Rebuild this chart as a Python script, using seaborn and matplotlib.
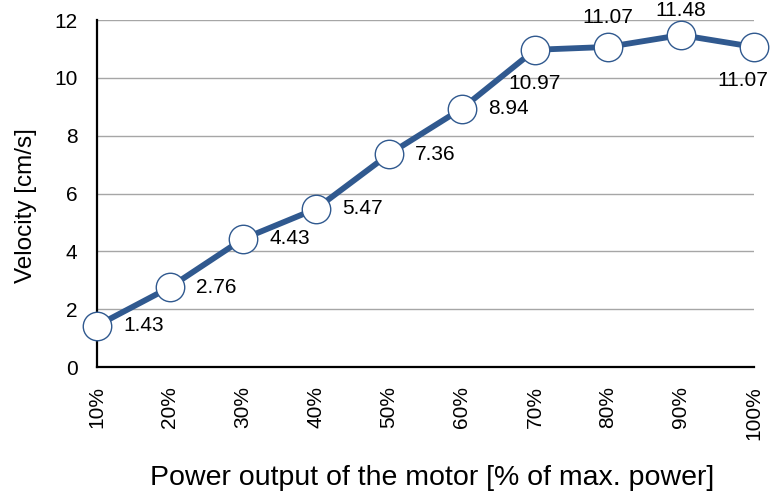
import matplotlib
matplotlib.use("Agg")
import matplotlib.pyplot as plt
import seaborn as sns
import pandas as pd

power = ["10%", "20%", "30%", "40%", "50%", "60%", "70%", "80%", "90%", "100%"]
velocity = [1.43, 2.76, 4.43, 5.47, 7.36, 8.94, 10.97, 11.07, 11.48, 11.07]
label_pos = ["right", "right", "right", "right", "right", "right", "below", "above", "above", "below"]
yticks = [0, 2, 4, 6, 8, 10, 12]

sns.set_style("white")
plt.rcParams["font.family"] = ["Liberation Sans", "DejaVu Sans"]
plt.rcParams["text.color"] = "black"
plt.rcParams["xtick.color"] = "black"
plt.rcParams["ytick.color"] = "black"
plt.rcParams["axes.labelcolor"] = "black"

df = pd.DataFrame({"power": power, "velocity": velocity})

fig = plt.figure(figsize=(7.72, 4.92), dpi=100)
ax = fig.add_axes([0.1256, 0.254, 0.851, 0.7053])

line_color = "#30598F"
sns.lineplot(data=df, x="power", y="velocity", sort=False, ax=ax,
             color=line_color, linewidth=4.2, marker="o", markersize=20.5,
             markerfacecolor="white", markeredgecolor=line_color,
             markeredgewidth=1.0, zorder=3, clip_on=False)

texts = []
for i, (v, pos) in enumerate(zip(velocity, label_pos)):
    if pos == "right":
        off, ha = (19, 0), "left"
    elif pos == "below":
        off, ha = (0, -24), "center"
    else:
        off, ha = (0, 21), "center"
    t = ax.annotate(f"{v:.2f}", (i, v), xytext=off, textcoords="offset points",
                    ha=ha, va="center", fontsize=15, color="black",
                    annotation_clip=False)
    texts.append(t)

ax.set_xlim(0, len(power) - 1)
ax.set_ylim(0, 12)
ax.set_yticks(yticks)
ax.set_yticklabels([str(t) for t in yticks], fontsize=15)
ax.set_xticks(range(len(power)))
ax.set_xticklabels(power, rotation=90, fontsize=15)
ax.tick_params(axis="y", length=0, pad=14)
ax.tick_params(axis="x", length=0, pad=14)

ax.yaxis.grid(True, color="#A6A6A6", linewidth=1.0)
ax.set_axisbelow(True)
for s in ["top", "right"]:
    ax.spines[s].set_visible(False)
for s in ["left", "bottom"]:
    ax.spines[s].set_color("black")
    ax.spines[s].set_linewidth(1.6)

ax.set_xlabel("Power output of the motor [% of max. power]", fontsize=20.5)
ax.set_ylabel("Velocity [cm/s]", fontsize=17.5)
ax.xaxis.set_label_coords(0.51, -0.281)
ax.yaxis.set_label_coords(-0.092, 0.465)

# keep data labels inside the figure (like the original's automatic label placement)
fig.canvas.draw()
renderer = fig.canvas.get_renderer()
W, H = fig.bbox.width, fig.bbox.height
for t in texts:
    bb = t.get_window_extent(renderer)
    dx_pt = dy_pt = 0.0
    if bb.y1 > H - 1:
        dy_pt = -(bb.y1 - (H - 1)) * 72 / fig.dpi
    if bb.x1 > W - 4:
        dx_pt = -(bb.x1 - (W - 4)) * 72 / fig.dpi
    if dx_pt or dy_pt:
        x0, y0 = t.xyann
        t.xyann = (x0 + dx_pt, y0 + dy_pt)

fig.savefig("out.png", dpi=100)
